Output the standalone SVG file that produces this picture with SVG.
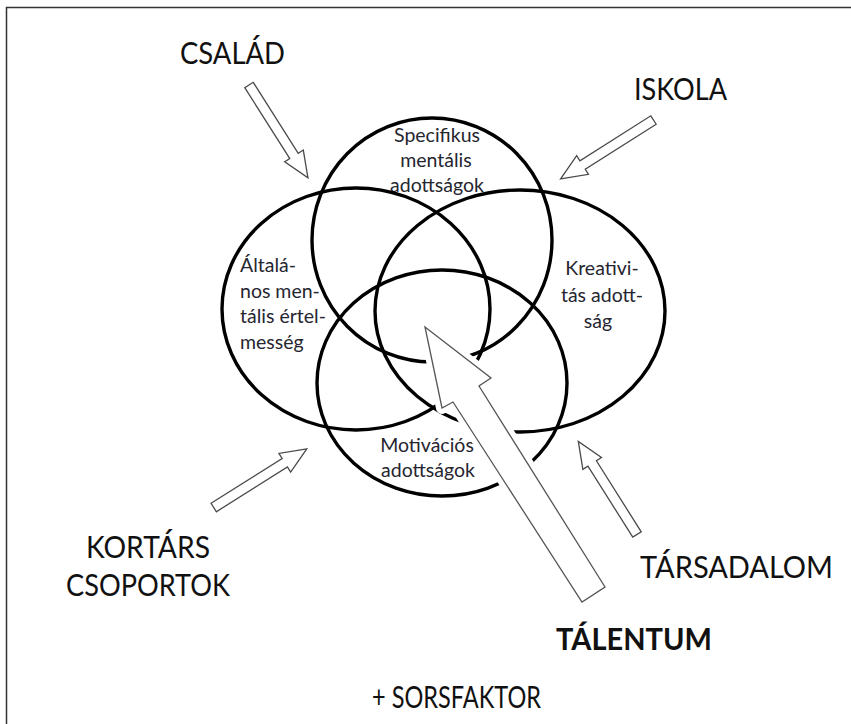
<svg xmlns="http://www.w3.org/2000/svg" width="851" height="724" viewBox="0 0 851 724">
<style>
.ring{fill:none;stroke:#000;stroke-width:3.4}
.big{font-family:Lato,"Open Sans","Liberation Sans",sans-serif;font-size:31px;fill:#111}
.bold{font-weight:bold}
.lbl{font-family:Lato,"Open Sans","Liberation Sans",sans-serif;font-size:19.5px;fill:#262630}
.c{text-anchor:middle}
.sarrow{fill:#fff;stroke:#4a4a4a;stroke-width:1.3;stroke-linejoin:miter}
.halo{fill:#fff;stroke:#fff;stroke-width:12;stroke-linejoin:round}
.barrow{fill:#fff;stroke:#555;stroke-width:1.3}
</style>
<defs>
<path id="sa" d="M0,-5 H84 V-11 L110,0 L84,11 V5 H0 Z"/>
</defs>
<rect width="851" height="724" fill="#fff"/>
<path d="M6.5,724 V7.5 H851" fill="none" stroke="#333" stroke-width="1.5"/>

<g id="specifikus">
<ellipse class="ring" cx="432" cy="240" rx="120" ry="122"/>
<text class="lbl c" x="437" y="142">Specifikus</text>
<text class="lbl c" x="436" y="167">mentális</text>
<text class="lbl c" x="437" y="192">adottságok</text>
</g>
<g id="altalanos">
<ellipse class="ring" cx="356" cy="309" rx="134" ry="121"/>
<text class="lbl" x="240" y="272">Általá-</text>
<text class="lbl" x="240" y="298">nos men-</text>
<text class="lbl" x="240" y="323">tális értel-</text>
<text class="lbl" x="240" y="349">messég</text>
</g>
<g id="kreativitas">
<ellipse class="ring" cx="520" cy="311" rx="145" ry="121"/>
<text class="lbl c" x="602" y="275">Kreativi-</text>
<text class="lbl c" x="602" y="302">tás adott-</text>
<text class="lbl c" x="598" y="328">ság</text>
</g>
<g id="motivacios">
<ellipse class="ring" cx="442" cy="383" rx="125" ry="113"/>
<text class="lbl c" x="427" y="452">Motivációs</text>
<text class="lbl c" x="428" y="477">adottságok</text>
</g>

<g id="csalad"><text class="big" x="180" y="64" textLength="105" lengthAdjust="spacingAndGlyphs">CSALÁD</text></g>
<g id="iskola"><text class="big" x="634" y="100" textLength="93" lengthAdjust="spacingAndGlyphs">ISKOLA</text></g>
<g id="kortars"><text class="big" x="86" y="558" textLength="124" lengthAdjust="spacingAndGlyphs">KORTÁRS</text><text class="big" x="66" y="596" textLength="164" lengthAdjust="spacingAndGlyphs">CSOPORTOK</text></g>
<g id="tarsadalom"><text class="big" x="640" y="578" textLength="193" lengthAdjust="spacingAndGlyphs">TÁRSADALOM</text></g>
<g id="talentum"><text class="big bold" x="556" y="650" textLength="156" lengthAdjust="spacingAndGlyphs">TÁLENTUM</text></g>
<g id="sorsfaktor"><text class="big" x="372" y="708" textLength="169" lengthAdjust="spacingAndGlyphs">+ SORSFAKTOR</text></g>

<g id="connectors">
<use href="#sa" class="sarrow" transform="translate(249,85) rotate(57.6)"/>
<use href="#sa" class="sarrow" transform="translate(653.5,120) rotate(147.6)"/>
<use href="#sa" class="sarrow" transform="translate(213.7,507.5) rotate(-32.2)"/>
<use href="#sa" class="sarrow" transform="translate(637,534.5) rotate(-122.25)"/>
<polygon class="halo" points="425,327 491,378 479,386 605,587 582,602 453,402 442,408"/>
<polygon class="barrow" points="425,327 491,378 479,386 605,587 582,602 453,402 442,408"/>
</g>
</svg>
